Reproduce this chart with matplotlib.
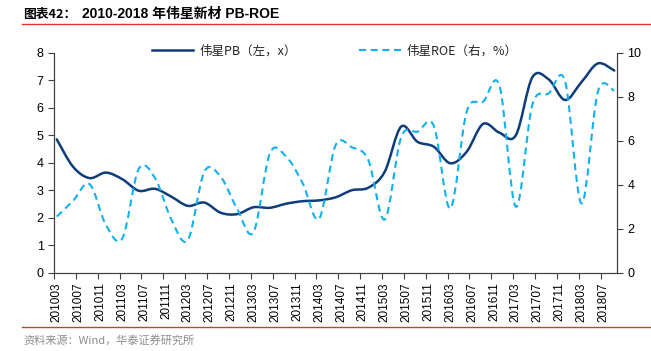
import numpy as np
import matplotlib
matplotlib.use("Agg")
import matplotlib.pyplot as plt
from matplotlib.path import Path
from matplotlib.patches import PathPatch
from matplotlib.lines import Line2D

plt.rcParams['font.family'] = ['Liberation Sans', 'Noto Sans CJK SC', 'DejaVu Sans']

# months from 201003 to 201809
months = [f"{2010 + (m + 2) // 12}{(m + 2) % 12 + 1:02d}" for m in range(103)]
tick_months = list(range(0, 103, 4))

# quarterly readings (month index from 201003)
q_idx = list(range(0, 103, 3))
pb = [4.85, 3.85, 3.44, 3.64, 3.40, 2.98, 3.05, 2.76, 2.43, 2.55, 2.18, 2.13,
      2.38, 2.36, 2.51, 2.60, 2.63, 2.74, 3.00, 3.09, 3.67, 5.31, 4.76, 4.58,
      3.98, 4.40, 5.41, 5.09, 5.00, 7.10, 7.03, 6.28, 6.93, 7.61, 7.35]
roe = [2.55, 3.27, 4.03, 2.17, 1.56, 4.72, 4.29, 2.40, 1.49, 4.59, 4.36, 2.90,
       1.84, 5.43, 5.27, 4.06, 2.45, 5.78, 5.70, 5.12, 2.42, 6.15, 6.41, 6.67,
       2.92, 7.32, 7.77, 8.50, 3.00, 7.62, 8.15, 8.70, 3.15, 8.23, 8.27]

pb_color = '#0E3D7A'
roe_color = '#12B0EE'
red = '#E2332A'


def smooth_path(xs, ys):
    # Excel-like smoothed line: Catmull-Rom segments as cubic Beziers
    p = np.column_stack([xs, ys]).astype(float)
    n = len(p)
    verts = [p[0]]
    codes = [Path.MOVETO]
    for k in range(n - 1):
        p0 = p[k - 1] if k > 0 else p[k]
        p1 = p[k]
        p2 = p[k + 1]
        p3 = p[k + 2] if k + 2 < n else p[k + 1]
        verts += [p1 + (p2 - p0) / 6, p2 - (p3 - p1) / 6, p2]
        codes += [Path.CURVE4] * 3
    return Path(verts, codes)


fig = plt.figure(figsize=(6.51, 3.51), dpi=100)
ax = fig.add_axes([54 / 651, 1 - 272.7 / 351, (617 - 54) / 651, 220 / 351])
ax2 = ax.twinx()

ax.add_patch(PathPatch(smooth_path(q_idx, pb), fill=False, edgecolor=pb_color,
                       lw=1.8, zorder=3, capstyle='round'))
ax2.add_patch(PathPatch(smooth_path(q_idx, roe), fill=False, edgecolor=roe_color,
                        lw=1.5, linestyle=(0, (3.4, 2.2)), zorder=2))

ax.set_xlim(-0.5, 102.5)
ax.set_ylim(0, 8)
ax2.set_ylim(0, 10)
ax.set_yticks(range(0, 9))
ax2.set_yticks(range(0, 11, 2))

ax.set_xticks(tick_months)
ax.set_xticklabels([months[m] for m in tick_months], rotation=90, fontsize=8.5)
ax.set_xticks([m - 0.5 for m in tick_months], minor=True)
ax.tick_params(axis='x', which='major', length=0, pad=7)
ax.tick_params(axis='x', which='minor', length=4, width=0.8, color='#404040')
ax.tick_params(axis='y', length=4, width=0.8, color='#404040', labelsize=9)
ax2.tick_params(axis='y', length=4, width=0.8, color='#404040', labelsize=9)

for a in (ax, ax2):
    a.spines['top'].set_visible(False)
    for s in ('left', 'right', 'bottom'):
        a.spines[s].set_color('#404040')
        a.spines[s].set_linewidth(0.8)

handles = [Line2D([], [], color=pb_color, lw=1.8),
           Line2D([], [], color=roe_color, lw=1.5, linestyle=(0, (3.4, 2.2)))]
fig.legend(handles, ['伟星PB（左，x）', '伟星ROE（右，%）'], loc='center',
           bbox_to_anchor=(335 / 651, 1 - 50.7 / 351), ncol=2, frameon=False,
           handlelength=3.3, columnspacing=5.0, handletextpad=0.5,
           labelcolor='#262626',
           prop={'family': ['Noto Sans CJK SC'], 'size': 9})

fig.text(23 / 651, 1 - 14 / 351, '图表42：', fontsize=9.2, fontweight='bold',
         va='center', family=['Noto Sans CJK SC'])
fig.text(82 / 651, 1 - 14 / 351, '2010-2018 年伟星新材 PB-ROE', fontsize=10,
         fontweight='bold', va='center',
         family=['Liberation Sans', 'Noto Sans CJK SC'])
fig.add_artist(Line2D([22 / 651, 1], [1 - 23.5 / 351] * 2, color=red, lw=1.0))
fig.add_artist(Line2D([22 / 651, 1], [1 - 327 / 351] * 2, color=red, lw=1.0))
fig.text(23 / 651, 1 - 340 / 351, '资料来源：Wind，华泰证券研究所', fontsize=8,
         color='#8C8C8C', va='center', family=['Noto Sans CJK SC'])

fig.savefig('out.png', dpi=100)
